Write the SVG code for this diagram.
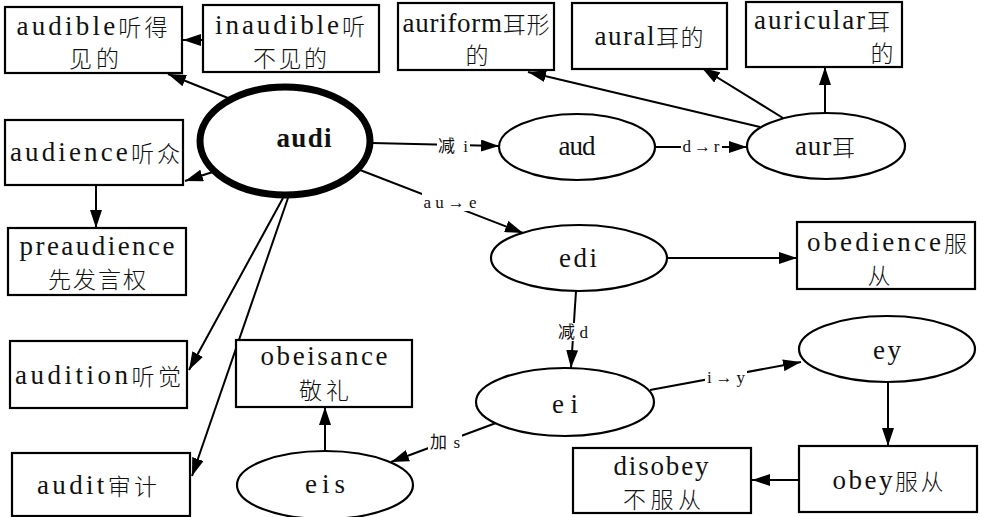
<svg xmlns="http://www.w3.org/2000/svg" width="983" height="517" viewBox="0 0 983 517">
<style>
.box{fill:#fff;stroke:#000;stroke-width:2.2}
.ell{fill:#fff;stroke:#000;stroke-width:2.2}
.t{font-family:"Liberation Serif","Noto Sans CJK SC",serif;font-size:27px;fill:#111;text-anchor:middle;dominant-baseline:central}
.k{font-family:"Noto Sans CJK SC",sans-serif;font-size:23px;font-weight:300}
.el{font-family:"Liberation Serif","Noto Sans CJK SC",serif;font-size:17px;fill:#111;text-anchor:middle;dominant-baseline:central}
.c path{fill:none;stroke:#000;stroke-width:2;marker-end:url(#ah)}
.lb{fill:#fff;stroke:none}
</style>
<defs>
<marker id="ah" viewBox="0 0 18 12" refX="18" refY="6" markerWidth="18" markerHeight="12" orient="auto" markerUnits="userSpaceOnUse"><path d="M0,0 L18,6 L0,12 z" fill="#000"/></marker>
</defs>
<rect width="983" height="517" fill="#fff"/>
<g id="connectors" class="c">
<path d="M228,98 L168,74"/>
<path d="M203,40 L183,40"/>
<path d="M222,169 L185,181"/>
<path d="M96,185 L96,228"/>
<path d="M283,198 L189,370"/>
<path d="M288,198 L192,476"/>
<path d="M372,143 L499,146"/>
<path d="M655,147 L747,147"/>
<path d="M760,127 L528,72"/>
<path d="M783,118 L702,68"/>
<path d="M825,113 L825,67"/>
<path d="M360,170 L523,233"/>
<path d="M667,258 L797,258"/>
<path d="M576,291 L571,368"/>
<path d="M650,390 L801,362"/>
<path d="M888,382 L888,446"/>
<path d="M799,480 L752,480"/>
<path d="M496,423 L391,462"/>
<path d="M325,452 L325,407"/>
</g>
<g id="edge-labels">
<rect class="lb" x="437" y="137" width="33" height="18"/><text class="el" x="453" y="146" textLength="30">减i</text>
<rect class="lb" x="681" y="137" width="41" height="18"/><text class="el" x="701" y="146" textLength="37">d→r</text>
<rect class="lb" x="422" y="193" width="57" height="18"/><text class="el" x="450" y="202" textLength="53">au→e</text>
<rect class="lb" x="556" y="323" width="34" height="18"/><text class="el" x="573" y="332" textLength="30">减d</text>
<rect class="lb" x="705" y="368" width="42" height="18"/><text class="el" x="726" y="377" textLength="38">i→y</text>
<rect class="lb" x="428" y="433" width="34" height="18"/><text class="el" x="445" y="442" textLength="30">加s</text>
</g>
<g id="audi"><ellipse cx="285" cy="141" rx="85" ry="54" fill="#fff" stroke="#000" stroke-width="7"/><text class="t" x="304" y="138" font-weight="bold" textLength="55">audi</text></g>
<g id="audible"><rect class="box" x="5" y="7" width="177" height="66"/><text class="t" x="92" y="26" textLength="151">audible<tspan class="k">听得</tspan></text><text class="t" x="94" y="57" textLength="50"><tspan class="k">见的</tspan></text></g>
<g id="inaudible"><rect class="box" x="203" y="5" width="176" height="67"/><text class="t" x="290" y="25" textLength="150">inaudible<tspan class="k">听</tspan></text><text class="t" x="290" y="57" textLength="74"><tspan class="k">不见的</tspan></text></g>
<g id="auriform"><rect class="box" x="398" y="3" width="156" height="67"/><text class="t" x="476" y="23" textLength="147">auriform<tspan class="k">耳形</tspan></text><text class="t" x="477" y="54"><tspan class="k">的</tspan></text></g>
<g id="aural"><rect class="box" x="572" y="3" width="155" height="66"/><text class="t" x="649" y="36" textLength="109">aural<tspan class="k">耳的</tspan></text></g>
<g id="auricular"><rect class="box" x="746" y="2" width="156" height="65"/><text class="t" x="822" y="20" textLength="136">auricular<tspan class="k">耳</tspan></text><text class="t" x="882" y="52"><tspan class="k">的</tspan></text></g>
<g id="audience"><rect class="box" x="5" y="120" width="178" height="65"/><text class="t" x="95" y="152" textLength="170">audience<tspan class="k">听众</tspan></text></g>
<g id="preaudience"><rect class="box" x="8" y="228" width="178" height="67"/><text class="t" x="97" y="246" textLength="155">preaudience</text><text class="t" x="97" y="278" textLength="98"><tspan class="k">先发言权</tspan></text></g>
<g id="audition"><rect class="box" x="10" y="341" width="177" height="67"/><text class="t" x="98" y="375" textLength="166">audition<tspan class="k">听觉</tspan></text></g>
<g id="audit"><rect class="box" x="12" y="453" width="178" height="63"/><text class="t" x="97" y="485" textLength="120">audit<tspan class="k">审计</tspan></text></g>
<g id="aud"><ellipse class="ell" cx="577" cy="147" rx="78" ry="33"/><text class="t" x="577" y="146" textLength="37">aud</text></g>
<g id="aur"><ellipse class="ell" cx="826" cy="146" rx="79" ry="33"/><text class="t" x="825" y="146" textLength="60">aur<tspan class="k">耳</tspan></text></g>
<g id="edi"><ellipse class="ell" cx="579" cy="258" rx="88" ry="33"/><text class="t" x="578" y="258" textLength="38">edi</text></g>
<g id="obedience"><rect class="box" x="797" y="222" width="178" height="67"/><text class="t" x="887" y="242" textLength="160">obedience<tspan class="k">服</tspan></text><text class="t" x="879" y="274"><tspan class="k">从</tspan></text></g>
<g id="ei"><ellipse class="ell" cx="565" cy="402" rx="89" ry="34"/><text class="t" x="565" y="404" textLength="26">ei</text></g>
<g id="ey"><ellipse class="ell" cx="887" cy="349" rx="88" ry="33"/><text class="t" x="887" y="350" textLength="28">ey</text></g>
<g id="obey"><rect class="box" x="799" y="446" width="178" height="66"/><text class="t" x="888" y="480" textLength="111">obey<tspan class="k">服从</tspan></text></g>
<g id="disobey"><rect class="box" x="573" y="448" width="178" height="65"/><text class="t" x="661" y="466" textLength="95">disobey</text><text class="t" x="662" y="498" textLength="78"><tspan class="k">不服从</tspan></text></g>
<g id="obeisance"><rect class="box" x="236" y="340" width="176" height="67"/><text class="t" x="324" y="356" textLength="127">obeisance</text><text class="t" x="324" y="389" textLength="50"><tspan class="k">敬礼</tspan></text></g>
<g id="eis"><ellipse class="ell" cx="325" cy="485" rx="88" ry="34"/><text class="t" x="325" y="484" textLength="40">eis</text></g>
</svg>
